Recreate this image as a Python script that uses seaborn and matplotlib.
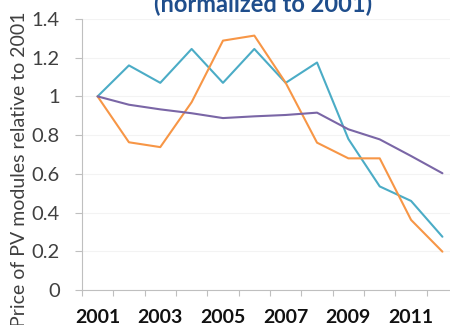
import numpy as np
import pandas as pd
import matplotlib
matplotlib.use("Agg")
import matplotlib.pyplot as plt
from matplotlib.ticker import FixedLocator, MultipleLocator
import seaborn as sns

# Module price indices, each normalized to its 2001 value
years = list(range(2001, 2013))
price_index_a = [1.00, 1.16, 1.07, 1.245, 1.07, 1.245, 1.07, 1.175, 0.78, 0.535, 0.46, 0.275]
price_index_b = [1.00, 0.763, 0.738, 0.97, 1.288, 1.314, 1.07, 0.761, 0.68, 0.68, 0.362, 0.198]
price_index_c = [1.00, 0.957, 0.933, 0.913, 0.888, 0.897, 0.904, 0.916, 0.83, 0.778, 0.692, 0.603]
series_names = ["index_a", "index_b", "index_c"]
series_colors = ["#4BACC6", "#F79646", "#7A66A6"]
labelled_years = [2001, 2003, 2005, 2007, 2009, 2011]
y_ticks = [0, 0.2, 0.4, 0.6, 0.8, 1, 1.2, 1.4]
y_tick_labels = ["0", "0.2", "0.4", "0.6", "0.8", "1", "1.2", "1.4"]

df = pd.DataFrame({
    "year": years * 3,
    "price": price_index_a + price_index_b + price_index_c,
    "series": sum([[n] * len(years) for n in series_names], []),
})

sns.set_theme(style="white")
plt.rcParams["font.family"] = ["Lato", "DejaVu Sans"]

fig = plt.figure(figsize=(4.5, 3.25), dpi=100)
ax = fig.add_axes([0.182, 0.1077, 0.836, 0.834])

sns.lineplot(data=df, x="year", y="price", hue="series",
             palette=dict(zip(series_names, series_colors)),
             linewidth=1.5, legend=False, ax=ax)

ax.set_xlim(2000.5, 2012.5)
ax.set_ylim(0, 1.4)

ax.set_yticks(y_ticks)
ax.set_yticklabels(y_tick_labels, fontsize=14.5, color="#404040")
ax.yaxis.grid(True, color="#f3f3f3", linewidth=0.8)
ax.set_axisbelow(True)

ax.xaxis.set_major_locator(FixedLocator(labelled_years))
ax.set_xticklabels([str(y) for y in labelled_years], fontsize=14,
                   fontweight="bold", color="#111111")
ax.xaxis.set_minor_locator(MultipleLocator(1, offset=0.5))
ax.tick_params(axis="x", which="major", length=0, pad=14)
ax.tick_params(axis="x", which="minor", length=4, color="#BFBFBF", width=0.8,
               direction="out", bottom=True)
ax.tick_params(axis="y", which="major", length=5, color="#BFBFBF", width=0.8,
               direction="out", left=True, pad=11)

for side in ["top", "right"]:
    ax.spines[side].set_visible(False)
for side in ["left", "bottom"]:
    ax.spines[side].set_color("#BFBFBF")
    ax.spines[side].set_linewidth(0.8)

ax.set_xlabel("")
ax.set_ylabel("Price of PV modules relative to 2001", fontsize=14,
              color="#404040")
ax.yaxis.set_label_coords(-0.142, 0.445)

fig.text(0.584, 0.962, "(normalized to 2001)", ha="center", va="baseline",
         fontsize=17, fontweight="bold", color="#1F4E8C")

fig.savefig("out.png", dpi=100)
